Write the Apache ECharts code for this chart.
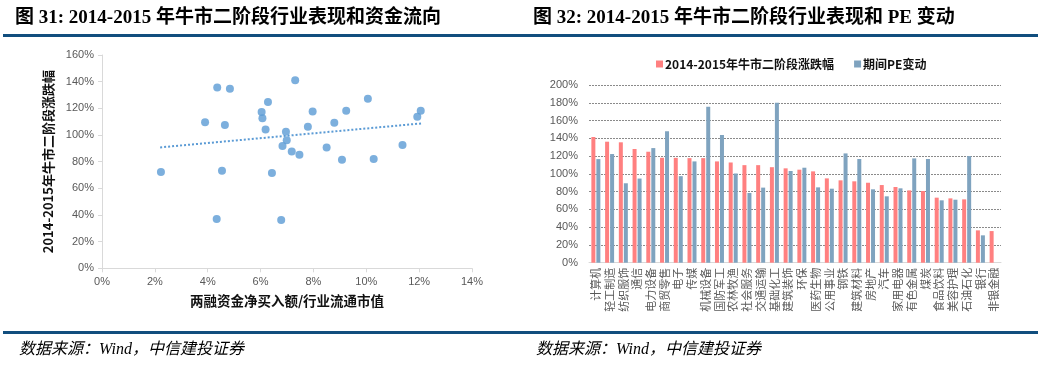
<!DOCTYPE html>
<html>
<head>
<meta charset="utf-8">
<script src="https://cdn.jsdelivr.net/npm/echarts@6/dist/echarts.min.js"></script>
<style>
html,body{margin:0;padding:0;background:#fff;}
#chart{width:1042px;height:366px;}
</style>
</head>
<body>
<div id="chart"></div>
<script>
// ---- Figure 31: scatter (margin financing vs. performance) ----
const scatterX = [2.23, 4.36, 4.84, 3.90, 4.65, 4.54, 4.34, 6.04, 6.07, 6.19, 6.28,
  6.43, 6.78, 7.31, 6.96, 6.99, 6.83, 7.18, 7.47, 7.79, 7.97, 8.50, 8.79, 9.08, 9.24,
  10.06, 10.28, 11.37, 11.93, 12.06];
const scatterY = [72.2, 135.7, 134.7, 109.5, 107.5, 73.2, 37.0, 117.2, 112.5, 104.2, 124.7,
  71.5, 36.2, 141.0, 102.5, 96.0, 91.7, 87.7, 85.2, 106.2, 117.7, 90.7, 109.2, 81.5, 118.2,
  127.2, 82.0, 92.5, 113.7, 118.2];
const trendX = [2.2, 12.1];
const trendY = [90.7, 108.7];
const scatterXTicks = [0, 2, 4, 6, 8, 10, 12, 14];
const scatterYTicks = [0, 20, 40, 60, 80, 100, 120, 140, 160];

// ---- Figure 32: bars (performance and PE change) ----
const industries = ['计算机','轻工制造','纺织服饰','通信','电力设备','商贸零售','电子','传媒',
  '机械设备','国防军工','农林牧渔','社会服务','交通运输','基础化工','建筑装饰','环保',
  '医药生物','公用事业','钢铁','建筑材料','房地产','汽车','家用电器','有色金属','煤炭',
  '食品饮料','美容护理','石油石化','银行','非银金融'];
const perfChange = [141.5, 136.2, 135.5, 128.0, 124.9, 118.1, 118.0, 117.7, 117.7, 114.0,
  112.8, 109.8, 109.8, 107.5, 106.2, 104.7, 102.8, 94.9, 92.7, 91.6, 90.0, 87.4, 85.2,
  81.4, 80.7, 73.2, 72.4, 71.3, 36.4, 35.6];
const peChange = [116.6, 122.3, 89.4, 94.7, 129.0, 148.0, 97.4, 114.0, 175.5, 143.8,
  100.4, 78.5, 84.5, 180.0, 103.2, 106.9, 84.8, 83.3, 123.0, 116.7, 82.6, 74.7, 83.7,
  117.4, 116.7, 70.2, 70.9, 120.0, 30.8, null];
const barYTicks = [0, 20, 40, 60, 80, 100, 120, 140, 160, 180, 200];

const seriesNames = ['2014-2015年牛市二阶段涨跌幅', '期间PE变动'];
const scatterXName = '两融资金净买入额/行业流通市值';
const scatterYName = '2014-2015年牛市二阶段涨跌幅';
const title31 = '图 31: 2014-2015 年牛市二阶段行业表现和资金流向';
const title32 = '图 32: 2014-2015 年牛市二阶段行业表现和 PE 变动';
const sourceNote = '数据来源：Wind，中信建投证券';

const GRAY = '#595959';
const AXIS = '#D9D9D9';
const LATIN = "'Liberation Sans', 'Noto Sans CJK SC', sans-serif";
const CJK = "'Noto Sans CJK SC', sans-serif";
const TITLE_FONT = "bold 19px 'Liberation Serif', 'Noto Sans CJK SC', serif";
const NOTE_FONT = "italic 16px 'Liberation Serif', 'Noto Sans CJK SC', serif";

const chart = echarts.init(document.getElementById('chart'), null, {renderer: 'canvas'});

const pct = v => v + '%';

const option = {
  backgroundColor: '#fff',
  animation: false,
  legend: {
    data: seriesNames,
    left: 651, top: 53,
    itemWidth: 7, itemHeight: 7, itemGap: 20,
    icon: 'rect',
    selectedMode: false,
    textStyle: {fontSize: 12, fontWeight: 'bold', color: '#111', fontFamily: CJK, padding: [0, 0, 0, -3]}
  },
  grid: [
    {left: 102, top: 55, width: 370, height: 213.3},
    {left: 589, top: 85, width: 412, height: 177.7}
  ],
  xAxis: [
    {
      gridIndex: 0, type: 'value',
      min: scatterXTicks[0], max: scatterXTicks[scatterXTicks.length - 1], interval: 2,
      axisLine: {show: true, lineStyle: {color: AXIS}},
      axisTick: {show: true, length: 4, lineStyle: {color: AXIS}},
      splitLine: {show: false},
      axisLabel: {formatter: pct, color: GRAY, fontSize: 11, fontFamily: LATIN, margin: 8},
      name: scatterXName, nameLocation: 'middle', nameGap: 26,
      nameTextStyle: {fontSize: 13.5, fontWeight: 'bold', color: '#111', fontFamily: CJK}
    },
    {
      gridIndex: 1, type: 'category', data: industries,
      axisLine: {show: true, lineStyle: {color: AXIS}},
      axisTick: {show: false},
      axisLabel: {interval: 0, rotate: 90, color: GRAY, fontSize: 11, fontFamily: CJK, margin: 5}
    }
  ],
  yAxis: [
    {
      gridIndex: 0, type: 'value',
      min: scatterYTicks[0], max: scatterYTicks[scatterYTicks.length - 1], interval: 20,
      axisLine: {show: true, lineStyle: {color: AXIS}},
      axisTick: {show: true, length: 4, lineStyle: {color: AXIS}},
      splitLine: {show: false},
      axisLabel: {formatter: pct, color: GRAY, fontSize: 11, fontFamily: LATIN, margin: 8},
      name: scatterYName, nameLocation: 'middle', nameRotate: 90, nameGap: 47,
      nameTextStyle: {fontSize: 13, fontWeight: 'bold', color: '#111', fontFamily: CJK}
    },
    {
      gridIndex: 1, type: 'value',
      min: barYTicks[0], max: barYTicks[barYTicks.length - 1], interval: 20,
      axisLine: {show: false},
      axisTick: {show: false},
      splitLine: {show: true, lineStyle: {color: '#8A8A8A', type: [2, 1], width: 1}},
      axisLabel: {formatter: pct, color: GRAY, fontSize: 11, fontFamily: LATIN, margin: 11}
    }
  ],
  series: [
    {
      type: 'scatter', xAxisIndex: 0, yAxisIndex: 0,
      data: scatterX.map((x, i) => [x, scatterY[i]]),
      symbolSize: 8,
      itemStyle: {color: '#5B9BD5'},
      z: 3
    },
    {
      type: 'line', xAxisIndex: 0, yAxisIndex: 0,
      data: trendX.map((x, i) => [x, trendY[i]]),
      symbol: 'none',
      lineStyle: {color: '#5B9BD5', width: 2, type: [2, 2]},
      z: 2
    },
    {
      name: seriesNames[0], type: 'bar', xAxisIndex: 1, yAxisIndex: 1,
      data: perfChange, barWidth: 4, barGap: '25%',
      itemStyle: {color: '#FF8080'}
    },
    {
      name: seriesNames[1], type: 'bar', xAxisIndex: 1, yAxisIndex: 1,
      data: peChange, barWidth: 4, barGap: '25%',
      itemStyle: {color: '#7FA3BF'}
    }
  ],
  graphic: [
    {type: 'text', x: 15, y: 18,
      style: {text: title31, font: TITLE_FONT, fill: '#000', verticalAlign: 'middle'}},
    {type: 'text', x: 533, y: 18,
      style: {text: title32, font: TITLE_FONT, fill: '#000', verticalAlign: 'middle'}},
    {type: 'rect', shape: {x: 3, y: 34, width: 1035, height: 3}, style: {fill: '#114E7E'}},
    {type: 'rect', shape: {x: 3, y: 331, width: 1035, height: 3}, style: {fill: '#114E7E'}},
    {type: 'text', x: 19, y: 350,
      style: {text: sourceNote, font: NOTE_FONT, fill: '#000', verticalAlign: 'middle'}},
    {type: 'text', x: 536, y: 350,
      style: {text: sourceNote, font: NOTE_FONT, fill: '#000', verticalAlign: 'middle'}}
  ]
};

chart.setOption(option);
</script>
</body>
</html>
